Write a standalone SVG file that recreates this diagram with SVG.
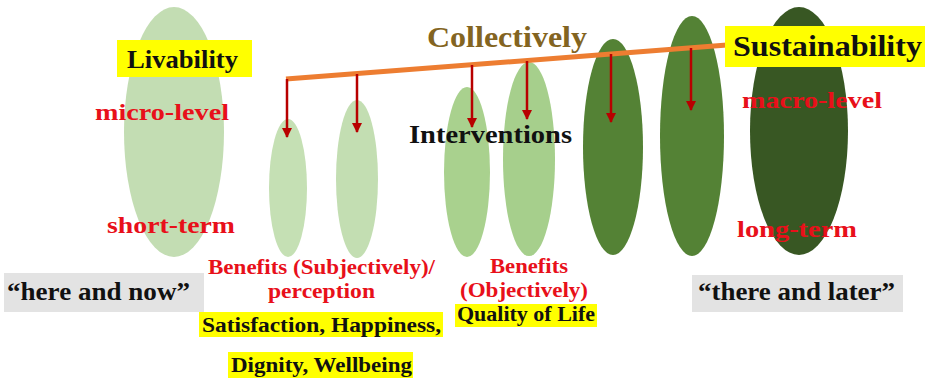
<svg xmlns="http://www.w3.org/2000/svg" width="927" height="380" viewBox="0 0 927 380">
<style>
text{font-family:"Liberation Serif","DejaVu Serif",serif;font-weight:bold}
.red{fill:#e8101a}
.blk{fill:#111}
.ybox{fill:#ffff00}
.gbox{fill:#e3e3e3}
.arr{stroke:#b80000;stroke-width:2.5;fill:none;marker-end:url(#ah)}
</style>
<defs>
<marker id="ah" viewBox="0 0 10 10" refX="9" refY="5" markerWidth="4" markerHeight="4" orient="auto" markerUnits="strokeWidth">
<path d="M0,0 L10,5 L0,10 Z" fill="#b80000"/>
</marker>
</defs>
<g id="shapes">
<ellipse id="e1" cx="174" cy="132" rx="50" ry="125" fill="#c3ddb3"/>
<ellipse id="e2" cx="288" cy="188" rx="19" ry="69" fill="#c5e0b4"/>
<ellipse id="e3" cx="357" cy="179" rx="21" ry="79" fill="#c3deb2"/>
<ellipse id="e4" cx="467" cy="172" rx="23" ry="85" fill="#a9d18e"/>
<ellipse id="e5" cx="529" cy="159" rx="26" ry="97" fill="#a6cf8c"/>
<ellipse id="e6" cx="613" cy="147" rx="30" ry="108" fill="#548235"/>
<ellipse id="e7" cx="692" cy="136" rx="32" ry="120" fill="#548235"/>
<ellipse id="e8" cx="799" cy="131" rx="49" ry="124" fill="#385723"/>
</g>
<g id="connectors">
<line x1="286" y1="79" x2="727" y2="45" stroke="#ed7d31" stroke-width="5"/>
<line class="arr" x1="287" y1="79" x2="287" y2="137"/>
<line class="arr" x1="357" y1="74" x2="357" y2="132"/>
<line class="arr" x1="472" y1="65" x2="472" y2="127"/>
<line class="arr" x1="527" y1="61" x2="527" y2="119"/>
<line class="arr" x1="611" y1="54" x2="611" y2="122"/>
<line class="arr" x1="691" y1="48" x2="691" y2="110"/>
</g>
<g id="livability">
<rect class="ybox" x="117" y="40" width="135" height="37"/>
<text class="blk" x="127" y="68" font-size="26" textLength="111" lengthAdjust="spacingAndGlyphs">Livability</text>
</g>
<g id="micro-level"><text class="red" x="95" y="120" font-size="24" textLength="134" lengthAdjust="spacingAndGlyphs">micro-level</text></g>
<g id="short-term"><text class="red" x="107" y="233" font-size="24" textLength="128" lengthAdjust="spacingAndGlyphs">short-term</text></g>
<g id="collectively"><text x="427" y="47" font-size="30" fill="#836421" textLength="160" lengthAdjust="spacingAndGlyphs">Collectively</text></g>
<g id="interventions"><text class="blk" x="409" y="143" font-size="25" textLength="163" lengthAdjust="spacingAndGlyphs">Interventions</text></g>
<g id="sustainability">
<rect class="ybox" x="725" y="26" width="200" height="41"/>
<text class="blk" x="733" y="56" font-size="29" textLength="189" lengthAdjust="spacingAndGlyphs">Sustainability</text>
</g>
<g id="macro-level"><text class="red" x="742" y="108" font-size="24" textLength="140" lengthAdjust="spacingAndGlyphs">macro-level</text></g>
<g id="long-term"><text class="red" x="737" y="237" font-size="24" textLength="120" lengthAdjust="spacingAndGlyphs">long-term</text></g>
<g id="here-now">
<rect class="gbox" x="4" y="273" width="200" height="39"/>
<text class="blk" x="7" y="300" font-size="26" textLength="183" lengthAdjust="spacingAndGlyphs">“here and now”</text>
</g>
<g id="there-later">
<rect class="gbox" x="692" y="275" width="211" height="37"/>
<text class="blk" x="698" y="300" font-size="26" textLength="197" lengthAdjust="spacingAndGlyphs">“there and later”</text>
</g>
<g id="benefits-subjective">
<text class="red" x="208" y="274" font-size="20" textLength="227" lengthAdjust="spacingAndGlyphs">Benefits (Subjectively)/</text>
<text class="red" x="268" y="298" font-size="20" textLength="107" lengthAdjust="spacingAndGlyphs">perception</text>
<rect class="ybox" x="199" y="312" width="244" height="25"/>
<text class="blk" x="202" y="332" font-size="20" textLength="239" lengthAdjust="spacingAndGlyphs">Satisfaction, Happiness,</text>
<rect class="ybox" x="228" y="352" width="185" height="26"/>
<text class="blk" x="231" y="372" font-size="20" textLength="181" lengthAdjust="spacingAndGlyphs">Dignity, Wellbeing</text>
</g>
<g id="benefits-objective">
<text class="red" x="490" y="273" font-size="20" textLength="78" lengthAdjust="spacingAndGlyphs">Benefits</text>
<text class="red" x="460" y="297" font-size="20" textLength="128" lengthAdjust="spacingAndGlyphs">(Objectively)</text>
<rect class="ybox" x="455" y="304" width="142" height="23"/>
<text class="blk" x="457" y="321" font-size="20" textLength="138" lengthAdjust="spacingAndGlyphs">Quality of Life</text>
</g>
</svg>
